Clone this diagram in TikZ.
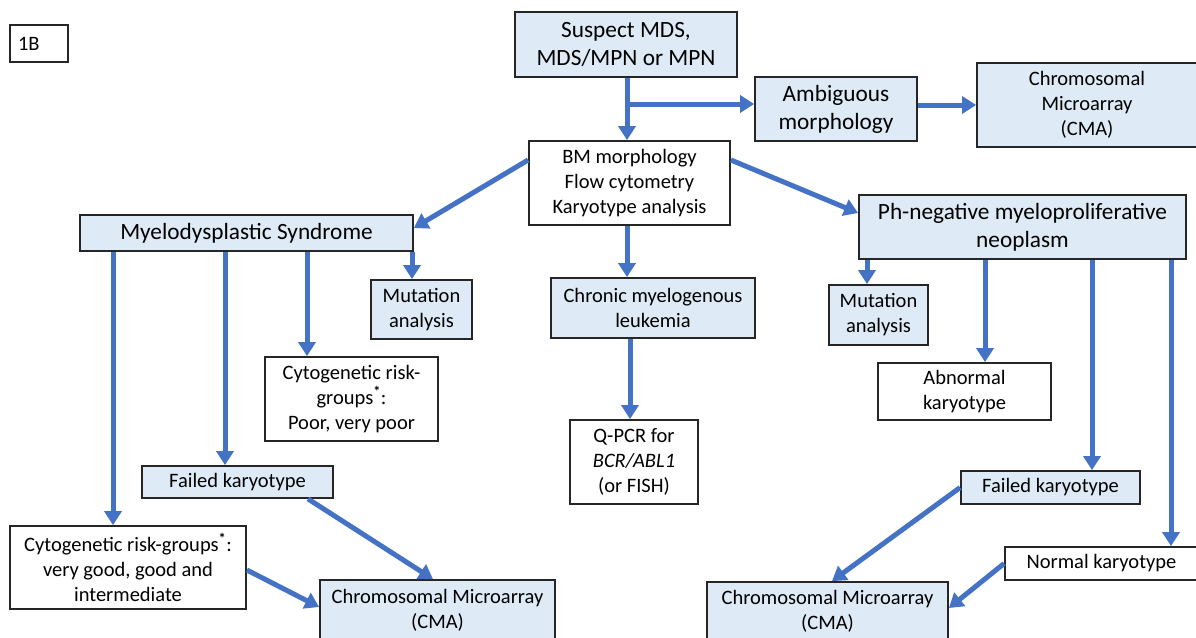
\documentclass[tikz,border=0pt]{standalone}
\usepackage{fontspec}
\setmainfont{Carlito}
\usetikzlibrary{arrows.meta}
\definecolor{boxblue}{RGB}{222,235,247}
\definecolor{arrblue}{RGB}{68,114,196}
\definecolor{edgecol}{RGB}{38,38,38}
\newcommand{\riskmark}{\textsuperscript{\textbf{*}}}
\tikzset{
  base/.style={draw=edgecol, line width=1.8pt, inner sep=0pt, align=center, text=black},
  bluebox/.style={base, fill=boxblue},
  whitebox/.style={base, fill=white},
  big/.style={font=\fontsize{23.3}{28}\selectfont},
  mid/.style={font=\fontsize{20.5}{25}\selectfont},
  arr/.style={draw=arrblue, line width=5pt, -{Triangle[width=17pt,length=14pt]}},
}
\begin{document}
\begin{tikzpicture}[x=1pt,y=-1pt]
\useasboundingbox (0,0) rectangle (1196,637);
\clip (0,0) rectangle (1196,637);
\fill[white] (0,0) rectangle (1196,637);

% nodes
\node[whitebox, mid, minimum width=58pt, minimum height=37pt, text width=42pt, align=left] (lab) at (39,43.5) {1B};
\node[bluebox, big, minimum width=222pt, minimum height=65pt] (susp) at (626,44.5) {Suspect MDS,\\MDS/MPN or MPN};
\node[bluebox, big, minimum width=162pt, minimum height=64pt] (amb) at (836,109) {Ambiguous\\morphology};
\node[bluebox, mid, minimum width=220pt, minimum height=84pt] (cmat) at (1087,105) {Chromosomal\\Microarray\\(CMA)};
\node[whitebox, mid, minimum width=201pt, minimum height=84pt] (bm) at (629.5,183) {BM morphology\\Flow cytometry\\Karyotype analysis};
\node[bluebox, big, minimum width=333pt, minimum height=36pt] (mds) at (246.5,233) {Myelodysplastic Syndrome};
\node[bluebox, big, minimum width=327pt, minimum height=64pt] (ph) at (1022.5,227) {Ph-negative myeloproliferative\\neoplasm};
\node[bluebox, mid, minimum width=101pt, minimum height=59pt] (mutl) at (421.5,309.5) {Mutation\\analysis};
\node[bluebox, mid, minimum width=204pt, minimum height=60pt] (cml) at (653,308) {Chronic myelogenous\\leukemia};
\node[bluebox, mid, minimum width=99pt, minimum height=60pt] (mutr) at (878.5,315) {Mutation\\analysis};
\node[whitebox, mid, minimum width=173pt, minimum height=84pt] (cytp) at (351.5,399) {Cytogenetic risk-\\groups\riskmark:\\Poor, very poor};
\node[whitebox, mid, minimum width=173pt, minimum height=57pt] (abn) at (964.5,391.5) {Abnormal\\karyotype};
\node[whitebox, mid, minimum width=128pt, minimum height=84pt] (qpcr) at (634,462) {Q-PCR for\\\textit{BCR/ABL1}\\(or FISH)};
\node[bluebox, mid, minimum width=191pt, minimum height=32pt] (faill) at (237.5,482) {Failed karyotype};
\node[bluebox, mid, minimum width=179pt, minimum height=33pt] (failr) at (1050.5,487.5) {Failed karyotype};
\node[whitebox, mid, minimum width=236pt, minimum height=83pt] (cytg) at (128,567.5) {Cytogenetic risk-groups\riskmark:\\very good, good and\\intermediate};
\node[whitebox, mid, minimum width=193pt, minimum height=33pt] (norm) at (1101.5,563.5) {Normal karyotype};
\node[bluebox, mid, minimum width=235pt, minimum height=60pt] (cmabl) at (437.5,610) {Chromosomal Microarray\\(CMA)};
\node[bluebox, mid, minimum width=241pt, minimum height=58pt] (cmabr) at (827.5,611) {Chromosomal Microarray\\(CMA)};

% helper coordinates
\coordinate (br) at (630,104);
\coordinate (cx) at (627,0);
\coordinate (qx) at (630,0);
\coordinate (m1) at (113,0);
\coordinate (m2) at (225,0);
\coordinate (m3) at (307,0);
\coordinate (m4) at (412,0);
\coordinate (p1) at (867,0);
\coordinate (p2) at (985,0);
\coordinate (p3) at (1092,0);
\coordinate (p4) at (1171,0);

% connectors
\draw[arr] (susp.south -| cx) -- (bm.north -| cx);
\draw[arr] (br) -- (amb.west |- br);
\draw[arr] (amb.east |- cmat.west) -- (cmat.west);
\draw[arr] ([yshift=23pt]bm.west) -- ([yshift=5pt]mds.east);
\draw[arr] ([yshift=23pt]bm.east) -- ([yshift=14pt]ph.west);
\draw[arr] (bm.south -| cx) -- (cml.north -| cx);
\draw[arr] (cml.south -| qx) -- (qpcr.north -| qx);

\draw[arr] (mds.south -| m1) -- (cytg.north -| m1);
\draw[arr] (mds.south -| m2) -- (faill.north -| m2);
\draw[arr] (mds.south -| m3) -- (cytp.north -| m3);
\draw[arr] (mds.south -| m4) -- (mutl.north -| m4);

\draw[arr] (ph.south -| p1) -- (mutr.north -| p1);
\draw[arr] (ph.south -| p2) -- (abn.north -| p2);
\draw[arr] (ph.south -| p3) -- (failr.north -| p3);
\draw[arr] (ph.south -| p4) -- (norm.north -| p4);

\draw[arr] ([xshift=70.5pt]faill.south) -- ([xshift=-4.5pt]cmabl.north);
\draw[arr] ([yshift=-2.5pt]cytg.east) -- ([yshift=3pt]cmabl.west);
\draw[arr] (failr.west) -- ([xshift=4.5pt]cmabr.north);
\draw[arr] (norm.west) -- ([yshift=3pt]cmabr.east);
\end{tikzpicture}
\end{document}
